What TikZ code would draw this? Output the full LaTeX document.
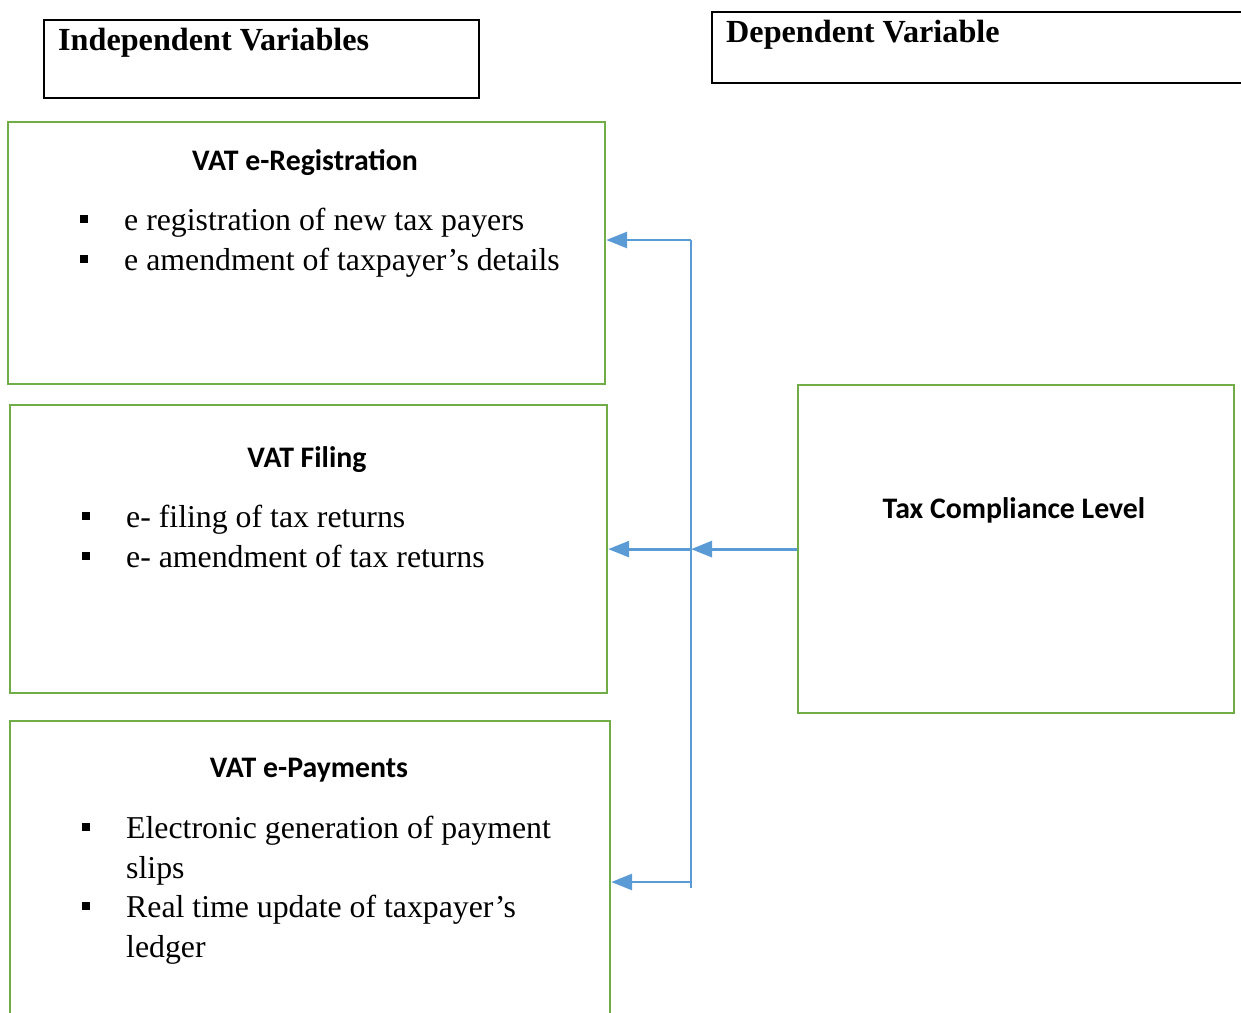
\documentclass[tikz,border=0pt]{standalone}
\usepackage{fontspec}
\setmainfont{Liberation Serif}
\newfontfamily\calfont{Carlito}
\usetikzlibrary{arrows.meta}
\definecolor{grn}{HTML}{70AD47}
\definecolor{blu}{HTML}{5B9BD5}
\begin{document}
\begin{tikzpicture}[x=1pt,y=-1pt,
  gbox/.style={draw=grn,line width=2.2pt,rectangle,inner sep=0pt,anchor=north west},
  kbox/.style={draw=black,line width=2pt,rectangle,inner sep=0pt,anchor=north west},
  head/.style={font=\calfont\bfseries\fontsize{29.8}{34}\selectfont,inner sep=0pt},
  title/.style={font=\bfseries\fontsize{32.2}{36}\selectfont,anchor=base west,inner sep=0pt},
  item/.style={anchor=base west,font=\fontsize{31.8}{36}\selectfont,inner sep=0pt},
  bul/.style={fill=black,minimum size=8pt,inner sep=0pt},
  conn/.style={draw=blu,line width=2.8pt,-{Triangle[length=21pt,width=16pt]}},
  vline/.style={draw=blu,line width=1.5pt}
]
\useasboundingbox (0,0) rectangle (1241,1012);
% header boxes
\node[kbox,minimum width=435pt,minimum height=78pt] (ind) at (43,19) {};
\node[title] (indt) at (58,50) {Independent Variables};
\node[kbox,minimum width=560pt,minimum height=71pt] (dep) at (711,11) {};
\node[title] (dept) at (726,42) {Dependent Variable};
% green boxes
\node[gbox,minimum width=597pt,minimum height=262pt] (reg) at (7,121) {};
\node[gbox,minimum width=597pt,minimum height=288pt] (fil) at (9,404) {};
\node[gbox,minimum width=600pt,minimum height=320pt] (pay) at (9,720) {};
\node[gbox,minimum width=436pt,minimum height=328pt] (tax) at (797,384) {};
% headings
\node[head] (regh) at (305,163) {VAT e-Registration};
\node[head] (filh) at (307,460) {VAT Filing};
\node[head] (payh) at (309,770) {VAT e-Payments};
\node[head] (taxh) at (1014,510) {Tax Compliance Level};
% bullets and items
\node[bul] (b1) at (84,219) {};
\node[item] (i1) at (124,230) {e registration of new tax payers};
\node[bul] (b2) at (84,259) {};
\node[item] (i2) at (124,270) {e amendment of taxpayer’s details};
\node[bul] (b3) at (86,516) {};
\node[item] (i3) at (126,527) {e- filing of tax returns};
\node[bul] (b4) at (86,556) {};
\node[item] (i4) at (126,567) {e- amendment of tax returns};
\node[bul] (b5) at (86,827) {};
\node[item] (i5) at (126,838) {Electronic generation of payment};
\node[item] (i5b) at (126,878) {slips};
\node[bul] (b6) at (86,906) {};
\node[item] (i6) at (126,917) {Real time update of taxpayer’s};
\node[item] (i6b) at (126,957) {ledger};
% connectors
\coordinate (top) at (691,240);
\coordinate (bot) at (691,888);
\coordinate (mid) at (tax.west -| top);
\coordinate (c3) at (691,882);
\draw[vline] (top) -- (bot);
\draw[conn] (top) -- (reg.east |- top);
\draw[conn] (tax.west) -- (mid);
\draw[conn] (mid) -- (fil.east |- mid);
\draw[conn] (c3) -- (pay.east |- c3);
\end{tikzpicture}
\end{document}
